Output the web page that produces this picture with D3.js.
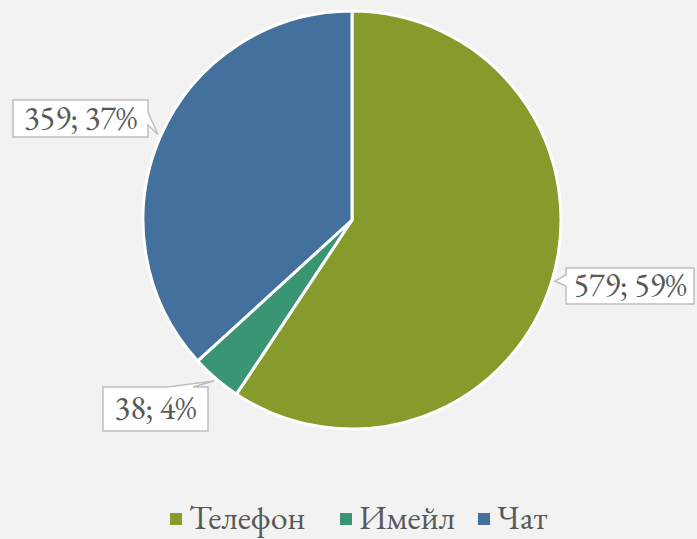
<!DOCTYPE html>
<html>
<head>
<meta charset="utf-8">
<script src="https://cdn.jsdelivr.net/npm/d3@7"></script>
<style>
  body { margin: 0; background: #f2f2f2; }
  svg { display: block; }
</style>
</head>
<body>
<div id="chart"></div>
<script>
// data
const categories = ["Телефон", "Имейл", "Чат"];
const values = [579, 38, 359];
const percentLabels = ["59%", "4%", "37%"];
const colors = ["#879b2c", "#3a9672", "#44709d"];

const width = 697, height = 539;
const cx = 352, cy = 220, radius = 209;
const labelFont = "'EB Garamond'";

const svg = d3.select("#chart").append("svg")
    .attr("width", width)
    .attr("height", height);

svg.append("rect")
    .attr("width", width)
    .attr("height", height)
    .attr("fill", "#f2f2f2");

const pie = d3.pie().sort(null).value(d => d);
const arcs = pie(values);
const arc = d3.arc().innerRadius(0).outerRadius(radius);

const g = svg.append("g")
    .attr("transform", `translate(${cx},${cy})`);

g.selectAll("path.slice")
    .data(arcs)
    .enter().append("path")
    .attr("class", "slice")
    .attr("d", arc)
    .attr("fill", (d, i) => colors[i])
    .attr("stroke", "#ffffff")
    .attr("stroke-width", 3)
    .attr("stroke-linejoin", "round");

// callout boxes
const boxes = [
  { x: 566, y: 268, w: 128, h: 36, side: "left" },
  { x: 103, y: 387, w: 105, h: 44, side: "top" },
  { x: 13, y: 100, w: 135, h: 37, side: "right" }
];

arcs.forEach((d, i) => {
  const b = boxes[i];
  // pointer tip just outside the rim, at the slice's mid angle
  const angle = (d.startAngle + d.endAngle) / 2;
  const tx = cx + Math.sin(angle) * (radius + 3);
  const ty = cy - Math.cos(angle) * (radius + 3);

  let pts;
  if (b.side === "left") {
    pts = [[b.x, b.y], [b.x + b.w, b.y], [b.x + b.w, b.y + b.h], [b.x, b.y + b.h],
           [b.x, b.y + 18], [tx, ty], [b.x, b.y + 7]];
  } else if (b.side === "right") {
    pts = [[b.x, b.y], [b.x + b.w, b.y], [b.x + b.w, b.y + 12], [tx, ty],
           [b.x + b.w, b.y + 25], [b.x + b.w, b.y + b.h], [b.x, b.y + b.h]];
  } else {
    pts = [[b.x, b.y], [b.x + 64, b.y], [tx, ty], [b.x + 90, b.y], [b.x + b.w, b.y],
           [b.x + b.w, b.y + b.h], [b.x, b.y + b.h]];
  }
  svg.append("path")
      .attr("d", d3.line()(pts) + "Z")
      .attr("fill", "#ffffff")
      .attr("stroke", "#bfbfbf")
      .attr("stroke-width", 1.5);

  svg.append("text")
      .attr("x", b.x + b.w / 2)
      .attr("y", b.y + b.h / 2 + 10)
      .attr("text-anchor", "middle")
      .style("font-family", labelFont)
      .attr("fill", "#595959")
      .attr("font-size", 32.5)
      .text(values[i] + "; " + percentLabels[i]);
});

// legend
const legendX = [170, 340, 478];
const legend = svg.append("g");
categories.forEach((c, i) => {
  const lg = legend.append("g").attr("transform", `translate(${legendX[i]},519)`);
  lg.append("rect")
      .attr("x", 0).attr("y", -6)
      .attr("width", 12).attr("height", 12)
      .attr("fill", colors[i]);
  lg.append("text")
      .attr("x", 19)
      .attr("y", 10)
      .style("font-family", labelFont)
      .attr("fill", "#595959")
      .attr("font-size", 34)
      .text(c);
});
</script>
</body>
</html>
